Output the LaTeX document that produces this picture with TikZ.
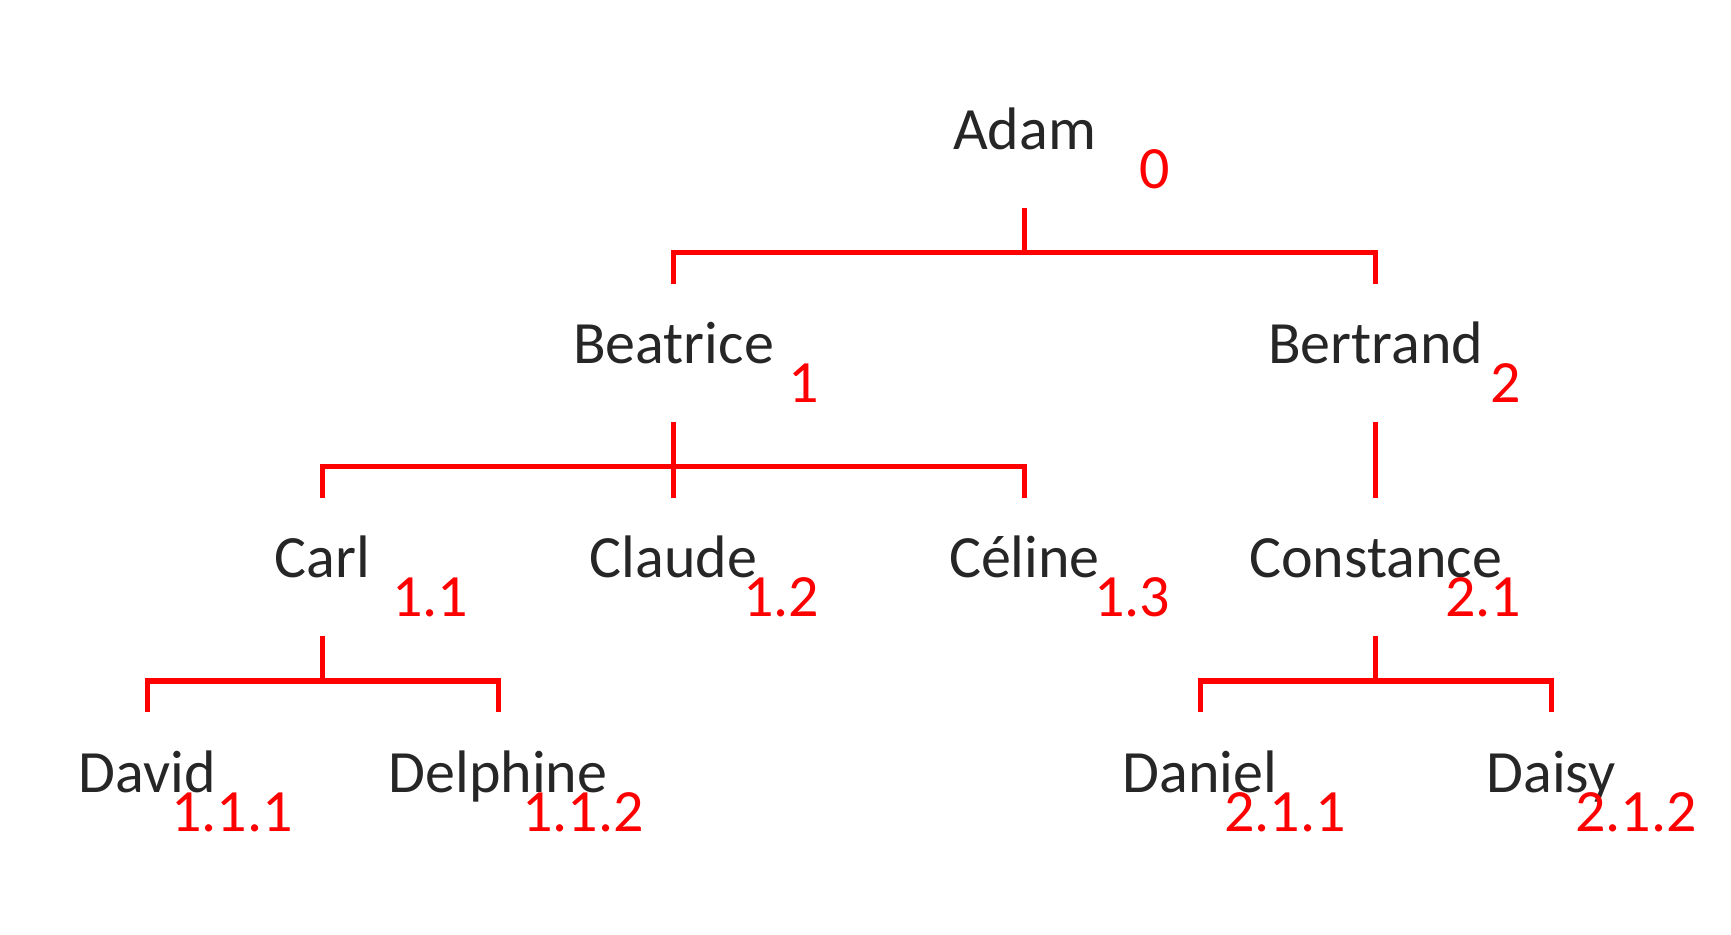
\documentclass[tikz,border=0pt]{standalone}
\usepackage{fontspec}
\setmainfont{Carlito}
\usetikzlibrary{calc}
\definecolor{nametext}{HTML}{262626}
\definecolor{numred}{HTML}{FF0000}
\begin{document}
\begin{tikzpicture}[x=0.5pt,y=-0.5pt,
  person/.style={anchor=base, text=nametext, inner sep=0pt, font=\fontsize{30}{36}\selectfont},
  num/.style={anchor=base east, text=numred, inner sep=0pt, font=\fontsize{30}{36}\selectfont},
  bracket/.style={draw=numred, line width=2.5pt, line join=miter, line cap=butt}]
\useasboundingbox (0,0) rectangle (1731,935);
% names
\node[person] (adam)      at (1024.5,150) {Adam};
\node[person] (beatrice)  at (673.5,364)  {Beatrice};
\node[person] (bertrand)  at (1375.5,364) {Bertrand};
\node[person] (carl)      at (322.5,578)  {Carl};
\node[person] (claude)    at (673.5,578)  {Claude};
\node[person] (celine)    at (1024.5,578) {Céline};
\node[person] (constance) at (1375.5,578) {Constance};
\node[person] (david)     at (147,792)    {David};
\node[person] (delphine)  at (498,792)    {Delphine};
\node[person] (daniel)    at (1200,792)   {Daniel};
\node[person] (daisy)     at (1551,792)   {Daisy};
% numbers
\node[num] (n0)   at ($(adam.base)+(146,39)$)      {0};
\node[num] (n1)   at ($(beatrice.base)+(146,39)$)  {1};
\node[num] (n2)   at ($(bertrand.base)+(146,39)$)  {2};
\node[num] (n11)  at ($(carl.base)+(146,39)$)      {1.1};
\node[num] (n12)  at ($(claude.base)+(146,39)$)    {1.2};
\node[num] (n13)  at ($(celine.base)+(146,39)$)    {1.3};
\node[num] (n21)  at ($(constance.base)+(146,39)$) {2.1};
\node[num] (n111) at ($(david.base)+(146,39)$)     {1.1.1};
\node[num] (n112) at ($(delphine.base)+(146,39)$)  {1.1.2};
\node[num] (n211) at ($(daniel.base)+(146,39)$)    {2.1.1};
\node[num] (n212) at ($(daisy.base)+(146,39)$)     {2.1.2};
% Adam
\draw[bracket] ($(adam.base)+(0,58)$) -- ($(adam.base)+(0,103)$);
\draw[bracket] ($(beatrice.base)+(0,-80)$) |- ($(bertrand.base)+(0,-111)$) -- ($(bertrand.base)+(0,-80)$);
% Beatrice
\draw[bracket] ($(beatrice.base)+(0,58)$) -- ($(claude.base)+(0,-80)$);
\draw[bracket] ($(carl.base)+(0,-80)$) |- ($(celine.base)+(0,-111)$) -- ($(celine.base)+(0,-80)$);
% Bertrand
\draw[bracket] ($(bertrand.base)+(0,58)$) -- ($(constance.base)+(0,-80)$);
% Carl
\draw[bracket] ($(carl.base)+(0,58)$) -- ($(carl.base)+(0,103)$);
\draw[bracket] ($(david.base)+(0,-80)$) |- ($(delphine.base)+(0,-111)$) -- ($(delphine.base)+(0,-80)$);
% Constance
\draw[bracket] ($(constance.base)+(0,58)$) -- ($(constance.base)+(0,103)$);
\draw[bracket] ($(daniel.base)+(0,-80)$) |- ($(daisy.base)+(0,-111)$) -- ($(daisy.base)+(0,-80)$);
\end{tikzpicture}
\end{document}
